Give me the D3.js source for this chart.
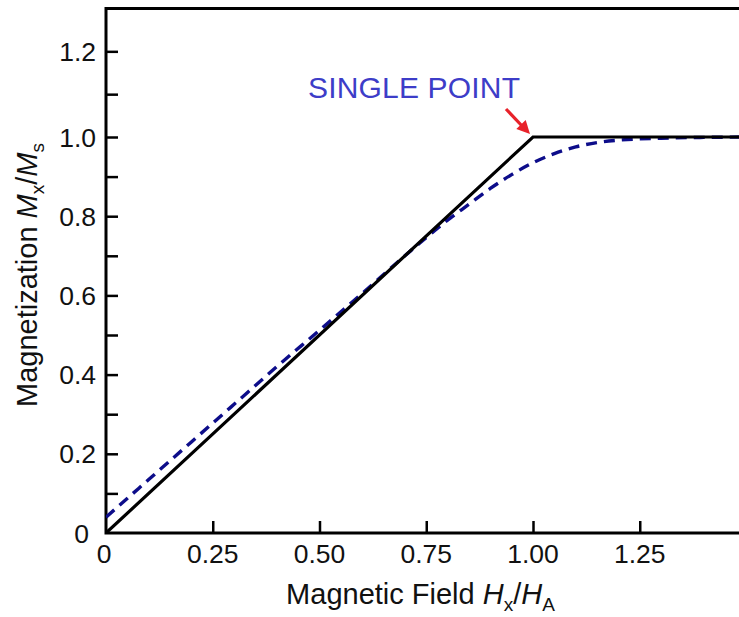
<!DOCTYPE html>
<html>
<head>
<meta charset="utf-8">
<script src="https://cdn.jsdelivr.net/npm/d3@7"></script>
<style>
  html, body { margin: 0; padding: 0; background: #fff; }
  svg { display: block; font-family: "Liberation Sans", Arial, sans-serif; }
</style>
</head>
<body>
<svg id="chart" width="739" height="617"></svg>
<script>
// ---- data ----
const idealH = [0, 1.0, 1.5];
const idealM = [0, 1.0, 1.0];

const measH = [0, 0.1, 0.2, 0.3, 0.4, 0.5, 0.6, 0.7, 0.8, 0.85, 0.9, 0.95, 1.0, 1.05, 1.1, 1.15, 1.2, 1.3, 1.4, 1.5];
const measM = [0.04, 0.135, 0.23, 0.325, 0.42, 0.512, 0.605, 0.70, 0.79, 0.83, 0.87, 0.905, 0.935, 0.958, 0.975, 0.986, 0.992, 0.997, 0.999, 1.0];

const xTicks = [0, 0.25, 0.5, 0.75, 1.0, 1.25];
const xTickLabels = ["0", "0.25", "0.50", "0.75", "1.00", "1.25"];
const yTicks = [0, 0.2, 0.4, 0.6, 0.8, 1.0, 1.2];
const yTickLabels = ["0", "0.2", "0.4", "0.6", "0.8", "1.0", "1.2"];
const yMinor = [0.1, 0.3, 0.5, 0.7, 0.9, 1.1];

const annotation = {text: "SINGLE POINT", h: 1.0, m: 1.0};

// ---- layout ----
const svg = d3.select("#chart");
const W = 739, H = 617;
const mLeft = 106, mTop = 8.5, mBottom = 533;

const x = d3.scaleLinear().domain([0, 1.5]).range([mLeft, mLeft + 1.5 * 427]);
// figure's y ticks are not perfectly even; piecewise fit
const y = d3.scaleLinear().domain([0, 1.0, 1.3]).range([mBottom, 137, mTop]);

svg.append("defs").append("clipPath").attr("id", "plotclip")
  .append("rect").attr("x", mLeft).attr("y", mTop)
  .attr("width", W - mLeft).attr("height", mBottom - mTop);

/* ——— axes ——————————————————————————— */
const tickLen = 12;
const axisColor = "#000";

// x axis: ticks inward
const xAxis = svg.append("g")
  .attr("transform", `translate(0,${mBottom})`)
  .call(d3.axisTop(x).tickValues(xTicks.filter(d => d > 0)).tickSize(tickLen).tickFormat(""));
xAxis.select(".domain").remove();
xAxis.selectAll("line").attr("stroke", axisColor).attr("stroke-width", 2.5);

svg.append("g").selectAll("text").data(xTicks).join("text")
  .attr("x", (d, i) => x(d) - (i === 0 ? 2 : 0))
  .attr("y", 563)
  .attr("text-anchor", "middle")
  .attr("font-size", 26.5)
  .attr("fill", "#111")
  .text((d, i) => xTickLabels[i]);

// y axis: major + minor ticks inward
const yAxis = svg.append("g")
  .attr("transform", `translate(${mLeft},0)`)
  .call(d3.axisRight(y).tickValues(yTicks.concat(yMinor).filter(d => d > 0)).tickSize(tickLen).tickFormat(""));
yAxis.select(".domain").remove();
yAxis.selectAll("line").attr("stroke", axisColor).attr("stroke-width", 2.5);

svg.append("g").selectAll("text").data(yTicks).join("text")
  .attr("x", (d, i) => i === 0 ? 89 : 96)
  .attr("y", d => y(d) + 9.5)
  .attr("text-anchor", "end")
  .attr("font-size", 26.5)
  .attr("fill", "#111")
  .text((d, i) => yTickLabels[i]);

// frame: left, bottom, top
svg.append("path")
  .attr("d", `M${W},${mTop}H${mLeft}V${mBottom}H${W}`)
  .attr("fill", "none")
  .attr("stroke", axisColor)
  .attr("stroke-width", 3);

/* ——— axis titles ————————————————————— */
const xTitle = svg.append("text")
  .attr("x", (mLeft + W) / 2 - 2)
  .attr("y", 604)
  .attr("text-anchor", "middle")
  .attr("font-size", 29)
  .attr("fill", "#111");
xTitle.append("tspan").text("Magnetic Field ");
xTitle.append("tspan").attr("font-style", "italic").text("H");
xTitle.append("tspan").attr("font-size", 19).attr("dy", 7).text("x");
xTitle.append("tspan").attr("dy", -7).text("/");
xTitle.append("tspan").attr("font-style", "italic").text("H");
xTitle.append("tspan").attr("font-size", 19).attr("dy", 7).text("A");

const yTitle = svg.append("text")
  .attr("transform", `translate(37,${275}) rotate(-90)`)
  .attr("text-anchor", "middle")
  .attr("font-size", 29)
  .attr("fill", "#111");
yTitle.append("tspan").text("Magnetization ");
yTitle.append("tspan").attr("font-style", "italic").text("M");
yTitle.append("tspan").attr("font-size", 19).attr("dy", 7).text("x");
yTitle.append("tspan").attr("dy", -7).text("/");
yTitle.append("tspan").attr("font-style", "italic").text("M");
yTitle.append("tspan").attr("font-size", 19).attr("dy", 7).text("s");

/* ——— curves ——————————————————————————— */
const plot = svg.append("g").attr("clip-path", "url(#plotclip)");

const line = d3.line().x(d => x(d[0])).y(d => y(d[1]));

plot.append("path")
  .datum(measH.map((h, i) => [h, measM[i]]))
  .attr("d", line.curve(d3.curveMonotoneX))
  .attr("fill", "none")
  .attr("stroke", "#0d0d8a")
  .attr("stroke-width", 3.4)
  .attr("stroke-dasharray", "11,7");

plot.append("path")
  .datum(idealH.map((h, i) => [h, idealM[i]]))
  .attr("d", line.curve(d3.curveLinear))
  .attr("fill", "none")
  .attr("stroke", "#000")
  .attr("stroke-width", 3.2)
  .attr("stroke-linejoin", "miter");

/* ——— annotation ——————————————————————— */
svg.append("text")
  .attr("x", 308)
  .attr("y", 98)
  .attr("font-size", 30)
  .attr("textLength", 212)
  .attr("fill", "#3d3dc8")
  .text(annotation.text);

const px = x(annotation.h), py = y(annotation.m);
const ax0 = px - 27, ay0 = py - 28;
const tipX = px - 3, tipY = py - 3;
svg.append("line")
  .attr("x1", ax0).attr("y1", ay0)
  .attr("x2", tipX - 6).attr("y2", tipY - 6)
  .attr("stroke", "#e8222a")
  .attr("stroke-width", 3.2);
const ang = Math.atan2(tipY - ay0, tipX - ax0);
const hl = 13, hw = 6.5;
const bx = tipX - hl * Math.cos(ang), by = tipY - hl * Math.sin(ang);
svg.append("path")
  .attr("d", `M${tipX},${tipY}L${bx + hw * Math.sin(ang)},${by - hw * Math.cos(ang)}L${bx - hw * Math.sin(ang)},${by + hw * Math.cos(ang)}Z`)
  .attr("fill", "#e8222a");
</script>
</body>
</html>
